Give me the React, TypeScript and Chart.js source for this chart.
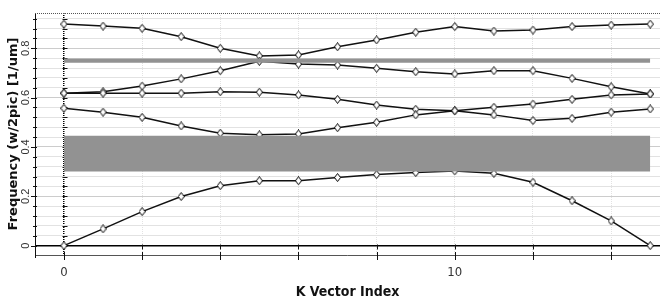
import React, { useEffect, useRef } from "react";
import { Chart, registerables } from "chart.js";

Chart.register(...registerables);

// ---- data ----
const K_INDEX = [0, 1, 2, 3, 4, 5, 6, 7, 8, 9, 10, 11, 12, 13, 14, 15];
const BAND_1 = [0, 0.068, 0.138, 0.199, 0.243, 0.263, 0.263, 0.276, 0.288, 0.296, 0.303, 0.293, 0.257, 0.182, 0.1, 0];
const BAND_2 = [0.557, 0.541, 0.52, 0.485, 0.456, 0.449, 0.453, 0.478, 0.5, 0.53, 0.547, 0.53, 0.507, 0.516, 0.541, 0.554];
const BAND_3 = [0.618, 0.618, 0.618, 0.618, 0.624, 0.622, 0.611, 0.593, 0.57, 0.553, 0.547, 0.561, 0.574, 0.593, 0.611, 0.615];
const BAND_4 = [0.618, 0.624, 0.647, 0.676, 0.709, 0.747, 0.736, 0.732, 0.719, 0.705, 0.696, 0.709, 0.709, 0.678, 0.644, 0.615];
const BAND_5 = [0.898, 0.89, 0.881, 0.847, 0.8, 0.769, 0.773, 0.806, 0.834, 0.865, 0.888, 0.87, 0.874, 0.888, 0.894, 0.898];

const GAP_X = [0, 15];
const GAP_1_LOW = [0.3, 0.3];
const GAP_1_HIGH = [0.445, 0.445];
const GAP_2_LOW = [0.741, 0.741];
const GAP_2_HIGH = [0.759, 0.759];

const X_LABELS = [0, 10];
const Y_LABELS = [0, 0.2, 0.4, 0.6, 0.8];
const X_GRID_STEP = 2;
const Y_GRID_STEP = 0.04;
const X_MIN = -0.74;
const X_MAX = 15.25;
const Y_MIN = -0.038;
const Y_MAX = 0.943;

const X_TITLE = "K Vector Index";
const Y_TITLE = "Frequency (w/2pic) [1/um]";

const NARROW = "'Liberation Sans Narrow', 'DejaVu Sans Condensed', 'Liberation Sans', Arial, sans-serif";

const isLabel = (list: number[], v: number) => list.some((l) => Math.abs(l - v) < 1e-6);

const toPoints = (xs: number[], ys: number[]) => xs.map((x, i) => ({ x, y: ys[i] }));

function makeDiamond(): HTMLCanvasElement {
  const c = document.createElement("canvas");
  c.width = 7;
  c.height = 9;
  const g = c.getContext("2d")!;
  g.beginPath();
  g.moveTo(3.5, 0.5);
  g.lineTo(6.5, 4.5);
  g.lineTo(3.5, 8.5);
  g.lineTo(0.5, 4.5);
  g.closePath();
  g.fillStyle = "#ffffff";
  g.fill();
  g.strokeStyle = "#000000";
  g.lineWidth = 1;
  g.stroke();
  return c;
}

const decorPlugin = {
  id: "decor",
  beforeDatasetsDraw(chart: any) {
    const { ctx, chartArea: a, scales } = chart;
    const xs = scales.x;
    const ys = scales.y;
    ctx.save();
    // top dotted border
    ctx.strokeStyle = "#555";
    ctx.lineWidth = 1;
    ctx.setLineDash([1, 1]);
    ctx.beginPath();
    ctx.moveTo(a.left, Math.round(a.top) + 0.5);
    ctx.lineTo(a.right, Math.round(a.top) + 0.5);
    ctx.stroke();
    ctx.setLineDash([]);
    ctx.strokeStyle = "#111";
    const x0 = Math.round(xs.getPixelForValue(0)) + 0.5;
    const y0 = Math.round(ys.getPixelForValue(0)) + 0.5;
    ctx.beginPath();
    for (const t of ys.ticks) {
      const py = Math.round(ys.getPixelForValue(t.value)) + 0.5;
      const major = isLabel(Y_LABELS, t.value);
      ctx.moveTo(a.left - (major ? 4 : 2), py);
      ctx.lineTo(a.left + 2, py);
      ctx.moveTo(x0 - 2, py);
      ctx.lineTo(x0 + 3, py);
    }
    for (const t of xs.ticks) {
      const px = Math.round(xs.getPixelForValue(t.value)) + 0.5;
      ctx.moveTo(px, y0 - 2);
      ctx.lineTo(px, y0 + 3);
      ctx.moveTo(px, a.bottom - 3);
      ctx.lineTo(px, a.bottom + 5);
    }
    ctx.moveTo(a.left + 0.5, a.bottom - 2);
    ctx.lineTo(a.left + 0.5, a.bottom + 3);
    ctx.stroke();
    ctx.restore();
  },
};

export default function App() {
  const ref = useRef<HTMLCanvasElement | null>(null);

  useEffect(() => {
    if (!ref.current) return;
    const diamond = makeDiamond();
    const lineDs = (ys: number[]) => ({
      data: toPoints(K_INDEX, ys),
      borderColor: "#111",
      borderWidth: 1.5,
      pointStyle: diamond,
      pointRadius: 3,
      fill: false,
      tension: 0,
    });
    const gapDs = (ys: number[], fill: any) => ({
      data: toPoints(GAP_X, ys),
      borderWidth: 0,
      borderColor: "rgba(0,0,0,0)",
      backgroundColor: "#929292",
      pointRadius: 0,
      fill,
    });

    const chart = new Chart(ref.current, {
      type: "line",
      data: {
        datasets: [
          gapDs(GAP_1_HIGH, "+1"),
          gapDs(GAP_1_LOW, false),
          gapDs(GAP_2_HIGH, "+1"),
          gapDs(GAP_2_LOW, false),
          lineDs(BAND_1),
          lineDs(BAND_2),
          lineDs(BAND_3),
          lineDs(BAND_4),
          lineDs(BAND_5),
        ] as any,
      },
      options: {
        animation: false,
        responsive: false,
        maintainAspectRatio: false,
        layout: { autoPadding: false, padding: { left: 0, right: 0, top: 13, bottom: 0 } },
        plugins: { legend: { display: false }, tooltip: { enabled: false } },
        scales: {
          x: {
            type: "linear",
            min: X_MIN,
            max: X_MAX,
            afterFit: (s: any) => {
              s.height = 48;
              s.paddingLeft = 0;
              s.paddingRight = 0;
            },
            ticks: {
              stepSize: X_GRID_STEP,
              includeBounds: false,
              autoSkip: false,
              maxRotation: 0,
              padding: 10,
              color: "#333",
              font: { family: NARROW, size: 13 },
              callback: (v: any) => (isLabel(X_LABELS, Number(v)) ? String(v) : ""),
            },
            grid: {
              drawTicks: false,
              color: (c: any) => (c.tick && Math.abs(c.tick.value) < 1e-9 ? "#000" : "#e2e2e2"),
              lineWidth: (c: any) => (c.tick && Math.abs(c.tick.value) < 1e-9 ? 1.5 : 1),
            },
            border: { display: true, color: "#555", dash: [1, 1] },
            title: {
              display: true,
              text: X_TITLE,
              color: "#111",
              font: { family: NARROW, size: 14, weight: "bold" },
              padding: { top: 0, bottom: 2 },
            },
          },
          y: {
            type: "linear",
            min: Y_MIN,
            max: Y_MAX,
            afterFit: (s: any) => {
              s.width = 35;
              s.paddingTop = 0;
              s.paddingBottom = 0;
            },
            ticks: {
              stepSize: Y_GRID_STEP,
              includeBounds: false,
              autoSkip: false,
              minRotation: 90,
              maxRotation: 90,
              crossAlign: "center",
              padding: 1,
              color: "#333",
              font: { family: "'Liberation Sans', Arial, sans-serif", size: 11 },
              callback: (v: any) => {
                const n = Number(v);
                return isLabel(Y_LABELS, n) ? String(Math.round(n * 10) / 10) : "";
              },
            },
            grid: {
              drawTicks: false,
              color: (c: any) => {
                const v = c.tick ? c.tick.value : 1;
                if (Math.abs(v) < 1e-9) return "#000";
                return isLabel(Y_LABELS, v) ? "#cccccc" : "#e2e2e2";
              },
              lineWidth: (c: any) => (c.tick && Math.abs(c.tick.value) < 1e-9 ? 1.5 : 1),
            },
            border: { display: true, color: "#111", width: 1 },
            title: {
              display: true,
              text: Y_TITLE,
              color: "#111",
              font: { family: "'DejaVu Sans', sans-serif", size: 13, weight: "bold" },
              padding: { top: 6, bottom: 0 },
            },
          },
        },
      },
      plugins: [decorPlugin],
    });
    return () => chart.destroy();
  }, []);

  return (
    <div style={{ position: "fixed", left: 0, top: 0, width: 660, height: 303, background: "#fff" }}>
      <canvas ref={ref} width={660} height={303} style={{ display: "block", width: 660, height: 303 }} />
    </div>
  );
}
